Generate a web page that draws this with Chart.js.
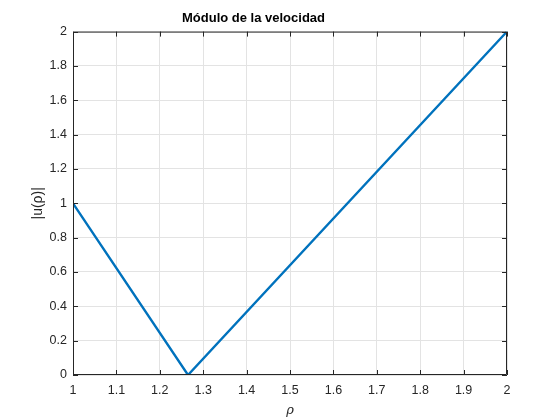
<!DOCTYPE html>
<html>
<head>
<meta charset="utf-8">
<script src="https://cdn.jsdelivr.net/npm/chart.js@4"></script>
<style>
  html, body { margin: 0; padding: 0; background: #fff; }
  #wrap { width: 560px; height: 420px; }
</style>
</head>
<body>
<div id="wrap"><canvas id="chart" width="560" height="420"></canvas></div>
<script>
// Data
const rho = [1, 1.265, 2];
const speed = [1, 0, 2];
const xTicks = [1, 1.1, 1.2, 1.3, 1.4, 1.5, 1.6, 1.7, 1.8, 1.9, 2];
const yTicks = [0, 0.2, 0.4, 0.6, 0.8, 1, 1.2, 1.4, 1.6, 1.8, 2];

const axisColor = '#262626';
const fontFamily = '"Liberation Sans", Arial, Helvetica, sans-serif';

// Box around the axes with inward tick marks (MATLAB style)
const boxTicks = {
    id: 'boxTicks',
    afterDraw: (chart) => {
        const { ctx, chartArea: a, scales } = chart;
        ctx.save();
        ctx.strokeStyle = axisColor;
        ctx.lineWidth = 1;
        ctx.beginPath();
        ctx.rect(a.left + 0.5, a.top + 0.5, a.right - a.left - 1, a.bottom - a.top - 1);
        const len = 5;
        xTicks.forEach(v => {
            const x = Math.round(scales.x.getPixelForValue(v)) + 0.5;
            ctx.moveTo(x, a.bottom); ctx.lineTo(x, a.bottom - len);
            ctx.moveTo(x, a.top); ctx.lineTo(x, a.top + len);
        });
        yTicks.forEach(v => {
            const y = Math.round(scales.y.getPixelForValue(v)) + 0.5;
            ctx.moveTo(a.left, y); ctx.lineTo(a.left + len, y);
            ctx.moveTo(a.right, y); ctx.lineTo(a.right - len, y);
        });
        ctx.stroke();
        ctx.restore();
    }
};

new Chart(document.getElementById('chart'), {
    type: 'scatter',
    data: {
        datasets: [{
            data: rho.map((r, i) => ({ x: r, y: speed[i] })),
            showLine: true,
            borderColor: '#0072BD',
            borderWidth: 2.4,
            pointRadius: 0,
            tension: 0
        }]
    },
    options: {
        responsive: false,
        animation: false,
        layout: { padding: { left: 0, right: 53, top: 0, bottom: 0 } },
        plugins: {
            legend: { display: false },
            tooltip: { enabled: false },
            title: {
                display: true,
                text: 'Módulo de la velocidad',
                color: '#000',
                font: { family: fontFamily, size: 13, weight: 'bold' },
                padding: { top: 11, bottom: 5 }
            }
        },
        scales: {
            x: {
                type: 'linear',
                min: 1,
                max: 2,
                afterBuildTicks: (s) => { s.ticks = xTicks.map(v => ({ value: v })); },
                afterFit: (s) => { s.height = 45; },
                grid: { color: '#e3e3e3', drawTicks: false },
                border: { display: false },
                ticks: {
                    color: axisColor,
                    padding: 8,
                    maxRotation: 0,
                    font: { family: fontFamily, size: 12.5 },
                    callback: (v) => String(Math.round(v * 10) / 10)
                },
                title: {
                    display: true,
                    text: 'ρ',
                    color: axisColor,
                    padding: { top: 0, bottom: 2 },
                    font: { family: '"DejaVu Serif", serif', size: 13, style: 'italic' }
                }
            },
            y: {
                type: 'linear',
                min: 0,
                max: 2,
                afterBuildTicks: (s) => { s.ticks = yTicks.map(v => ({ value: v })); },
                afterFit: (s) => { s.width = 73; },
                grid: { color: '#e3e3e3', drawTicks: false },
                border: { display: false },
                ticks: {
                    color: axisColor,
                    padding: 6,
                    font: { family: fontFamily, size: 12.5 },
                    callback: (v) => String(Math.round(v * 10) / 10)
                },
                title: {
                    display: true,
                    text: '|u(ρ)|',
                    color: axisColor,
                    padding: { top: 30, bottom: 0 },
                    font: { family: fontFamily, size: 14 }
                }
            }
        }
    },
    plugins: [boxTicks]
});
</script>
</body>
</html>
